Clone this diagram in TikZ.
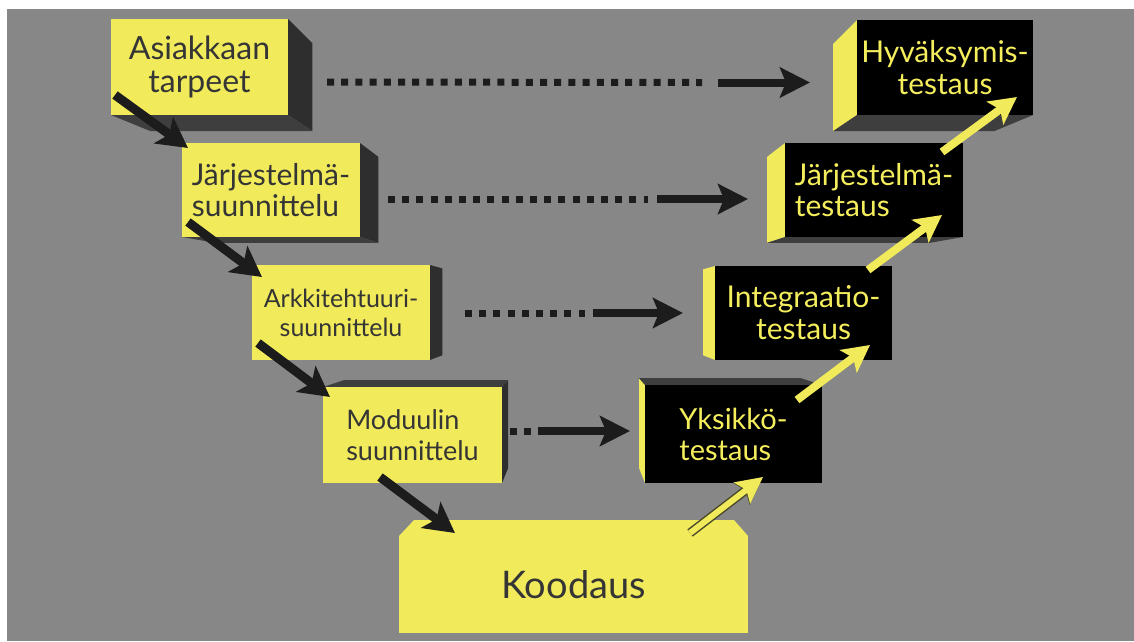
\documentclass[tikz,border=0pt]{standalone}
\usepackage{fontspec}
\setmainfont{Lato}
\usetikzlibrary{arrows.meta,calc}
\definecolor{bg}{HTML}{878787}
\definecolor{yel}{HTML}{F1EA5A}
\definecolor{txtdark}{HTML}{353535}
\definecolor{sidedark}{HTML}{2E2E2E}
\definecolor{botdark}{HTML}{3E3E3E}
\definecolor{arrowdark}{HTML}{1C1C1C}
\definecolor{txtyel}{HTML}{F5EE5C}
\definecolor{youtline}{HTML}{4A4A2A}
\tikzset{
  ybox/.style 2 args={fill=yel, text=txtdark, minimum width=#1pt, minimum height=#2pt, inner sep=0pt, outer sep=0pt, anchor=north west},
  bbox/.style 2 args={fill=black, text=txtyel, minimum width=#1pt, minimum height=#2pt, inner sep=0pt, outer sep=0pt, anchor=north west},
  sideface/.style={fill=sidedark},
  botface/.style={fill=botdark},
  yface/.style={fill=yel},
  dotline/.style={draw=arrowdark, line width=7pt, dash pattern=on 7pt off 7.2pt},
  harrow/.style={draw=arrowdark, line width=8pt, -{Stealth[length=30pt,width=30pt,inset=6pt]}},
  darrow/.style={draw=arrowdark, line width=9pt, -{Stealth[length=30pt,width=32pt,inset=7pt]}},
  yarrow/.style={draw=yel, line width=8pt, -{Stealth[length=27pt,width=28pt,inset=6pt]}},
  yarrowo/.style={draw=yel, line width=6pt, preaction={draw=youtline, line width=9pt, -{Stealth[length=27pt,width=27pt,inset=5pt]}}, -{Stealth[length=26pt,width=26pt,inset=5pt]}},
}
\begin{document}
\begin{tikzpicture}[x=1pt,y=-1pt]
\useasboundingbox (0,0) rectangle (1134,641);
\fill[white] (0,0) rectangle (1134,641);
\fill[bg] (7,9) rectangle (1134,641);

% 3D faces of left (yellow) boxes
\fill[sideface] (288,19) -- (312.4,43.3) -- (312.4,131.1) -- (288,115) -- cycle;
\fill[botface] (111,115) -- (288,115) -- (312.4,131.1) -- (150.4,131.1) -- cycle;
\fill[sideface] (360,143) -- (378.3,156.8) -- (378.3,242.8) -- (360,237) -- cycle;
\fill[botface] (182,237) -- (360,237) -- (378.3,242.8) -- (215.4,242.8) -- cycle;
\fill[sideface] (430,265) -- (442.3,268.4) -- (442.3,355.3) -- (430,360) -- cycle;
\fill[sideface] (502,387) -- (508.2,380) -- (508.2,467.9) -- (502,483) -- cycle;
\fill[botface] (323,387) -- (502,387) -- (508.2,380) -- (344.4,380) -- cycle;
% Koodaus top face
\fill[yface] (399,536) -- (748,536) -- (734,520) -- (414,520) -- cycle;
% 3D faces of right (black) boxes
\fill[yface] (857,20) -- (833,44.2) -- (833,131.2) -- (857,115) -- cycle;
\fill[botface] (857,115) -- (1033,115) -- (994.1,131.2) -- (833,131.2) -- cycle;
\fill[yface] (785,143) -- (767.2,156.8) -- (767.2,242.8) -- (785,237) -- cycle;
\fill[botface] (785,237) -- (963,237) -- (930,242.8) -- (767.2,242.8) -- cycle;
\fill[yface] (715,266) -- (703.1,269.3) -- (703.1,355.3) -- (715,360) -- cycle;
\fill[yface] (645,385) -- (639,378.2) -- (639,467.9) -- (645,483) -- cycle;
\fill[botface] (645,385) -- (822,385) -- (801,378.2) -- (639,378.2) -- cycle;

% front faces
\node[ybox={177}{96}, align=center, font=\fontsize{32}{33}\selectfont] (b1) at (111,19) {Asiakkaan\\tarpeet};
\node[ybox={178}{94}, align=left, font=\fontsize{30}{31}\selectfont] (b2) at (182,143) {Järjestelmä-\\suunnittelu};
\node[ybox={178}{95}, align=center, font=\fontsize{25}{29}\selectfont] (b3) at (252,265) {Arkkitehtuuri-\\suunnittelu};
\node[ybox={179}{96}, align=left, font=\fontsize{27}{31}\selectfont] (b4) at (323,387) {Moduulin\\suunnittelu};
\node[ybox={349}{97}, font=\fontsize{38}{40}\selectfont] (k) at (399,536) {Koodaus};
\node[bbox={176}{95}, align=center, font=\fontsize{30}{32}\selectfont] (b6) at (857,20) {Hyväksymis-\\testaus};
\node[bbox={178}{94}, align=left, font=\fontsize{30}{31}\selectfont] (b7) at (785,143) {Järjestelmä-\\testaus};
\node[bbox={177}{94}, align=center, font=\fontsize{30}{32}\selectfont] (b8) at (715,266) {Integraatio-\\testaus};
\node[bbox={177}{98}, align=left, font=\fontsize{29}{31}\selectfont] (b9) at (645,385) {Yksikkö-\\testaus};

% horizontal dotted connectors
\coordinate (r1s) at ($(b1.east)+(39,15)$);
\coordinate (r1d) at ($(b6.west)+(-155,15)$);
\coordinate (r1m) at ($(b6.west)+(-139,15)$);
\coordinate (r1t) at ($(b6.west)+(-47,15)$);
\draw[dotline] (r1s) -- (r1d);
\draw[harrow] (r1m) -- (r1t);
\coordinate (r2s) at ($(b2.east)+(28,9)$);
\coordinate (r2d) at ($(b7.west)+(-137,9)$);
\coordinate (r2m) at ($(b7.west)+(-128,9)$);
\coordinate (r2t) at ($(b7.west)+(-37,9)$);
\draw[dotline] (r2s) -- (r2d);
\draw[harrow] (r2m) -- (r2t);
\coordinate (r3s) at ($(b3.east)+(35,0.5)$);
\coordinate (r3d) at ($(b8.west)+(-130,0)$);
\coordinate (r3m) at ($(b8.west)+(-122,0)$);
\coordinate (r3t) at ($(b8.west)+(-32,0)$);
\draw[dotline] (r3s) -- (r3d);
\draw[harrow] (r3m) -- (r3t);
\coordinate (r4s) at ($(b4.east)+(8,-4)$);
\coordinate (r4d) at ($(b9.west)+(-114,-3)$);
\coordinate (r4m) at ($(b9.west)+(-107,-3)$);
\coordinate (r4t) at ($(b9.west)+(-15,-3)$);
\draw[dotline] (r4s) -- (r4d);
\draw[harrow] (r4m) -- (r4t);

% descending black arrows
\draw[darrow] ($(b1.south west)+(4,-20)$) -- ($(b2.north west)+(6,5)$);
\draw[darrow] ($(b2.south west)+(6,-15)$) -- ($(b3.north west)+(10,12)$);
\draw[darrow] ($(b3.south west)+(6,-17)$) -- ($(b4.north west)+(7,10)$);
\draw[darrow] ($(b4.south west)+(57,-6)$) -- ($(k.north west)+(56,-3)$);

% ascending yellow arrows
\draw[yarrowo] ($(k.north east)+(-58,-3)$) -- ($(b9.south west)+(118,-6)$);
\draw[yarrow] ($(b9.north east)+(-25,15)$) -- ($(b8.south west)+(155,-15)$);
\draw[yarrow] ($(b8.north east)+(-24,4)$) -- ($(b7.south west)+(157,-22)$);
\draw[yarrow] ($(b7.north east)+(-21,9)$) -- ($(b6.south west)+(160,-18)$);
\end{tikzpicture}
\end{document}
